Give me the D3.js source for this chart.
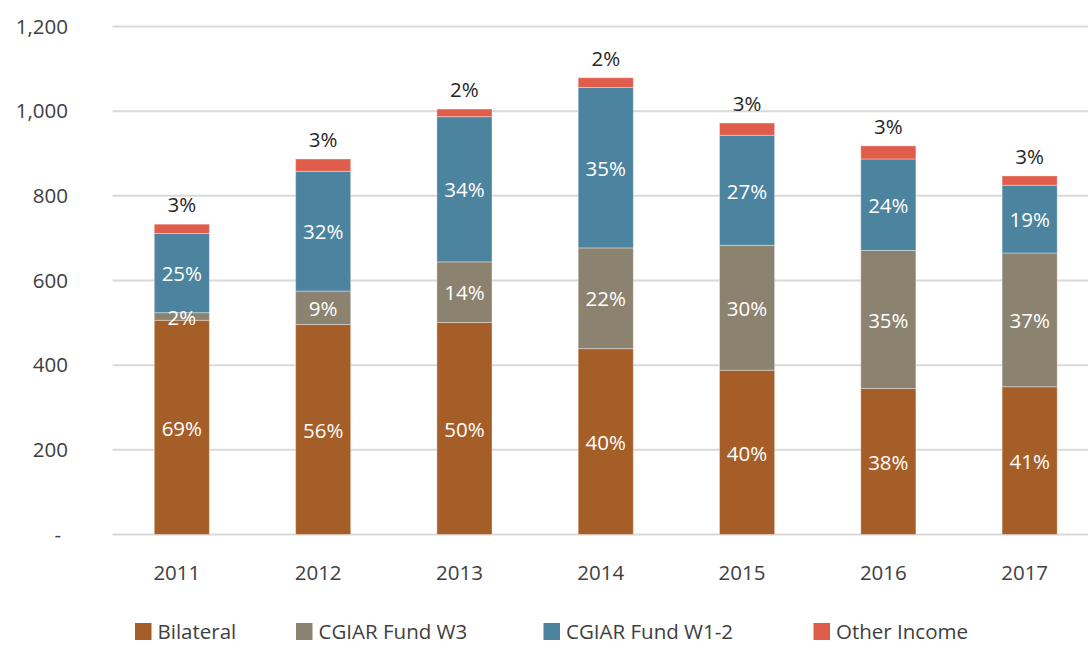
<!DOCTYPE html>
<html>
<head>
<meta charset="utf-8">
<script src="https://cdn.jsdelivr.net/npm/d3@7"></script>
<style>
  body { margin: 0; background: #fff; }
  svg { display: block; font-family: 'Open Sans', sans-serif; }
</style>
</head>
<body>
<div id="chart"></div>
<script>
// data (US$ millions)
const years = ['2011', '2012', '2013', '2014', '2015', '2016', '2017']
const series = ['Bilateral', 'CGIAR Fund W3', 'CGIAR Fund W1-2', 'Other Income']
const bilateral = [506, 496, 501, 439, 388, 345, 349]
const fundW3 = [18, 79, 143, 238, 295, 326, 316]
const fundW12 = [187, 283, 343, 379, 260, 216, 160]
const otherIncome = [22, 29, 18, 23, 29, 31, 22]

// percentage labels as printed
const bilateralPct = ['69%', '56%', '50%', '40%', '40%', '38%', '41%']
const w3Pct = ['2%', '9%', '14%', '22%', '30%', '35%', '37%']
const w12Pct = ['25%', '32%', '34%', '35%', '27%', '24%', '19%']
const otherPct = ['3%', '3%', '2%', '2%', '3%', '3%', '3%']

const yTicks = [0, 200, 400, 600, 800, 1000, 1200]

const colours = ['#a65e28', '#8c8270', '#4c84a0', '#e05d4b']

const width = 1088
const height = 646
const fontSize = '20.5px'

const svg = d3.select('#chart').append('svg')
    .attr('width', width)
    .attr('height', height)

const x = d3.scaleBand()
    .domain(years)
    .range([111.2, 1100.3])
    .paddingInner(0.61)
    .paddingOuter(0.305)

const y = d3.scaleLinear()
    .domain([0, 1200])
    .range([534.5, 26.5])

// gridlines + y labels
svg.append('g')
    .selectAll('line')
    .data(yTicks)
    .enter().append('line')
    .attr('x1', 112.5)
    .attr('x2', width)
    .attr('y1', d => y(d))
    .attr('y2', d => y(d))
    .attr('stroke', '#d9d9d9')
    .attr('stroke-width', 2)

svg.append('g')
    .selectAll('text')
    .data(yTicks)
    .enter().append('text')
    .attr('x', d => d === 0 ? 61 : 68)
    .attr('y', d => y(d))
    .attr('dy', '0.35em')
    .attr('text-anchor', 'end')
    .style('font-size', fontSize)
    .style('fill', '#404040')
    .text(d => d === 0 ? '-' : d3.format(',')(d))

// stack
const rows = years.map((yr, i) => ({
    year: yr,
    'Bilateral': bilateral[i],
    'CGIAR Fund W3': fundW3[i],
    'CGIAR Fund W1-2': fundW12[i],
    'Other Income': otherIncome[i]
}))
const stacked = d3.stack().keys(series)(rows)
const pctLabels = [bilateralPct, w3Pct, w12Pct, otherPct]

const layers = svg.append('g')
    .selectAll('g')
    .data(stacked)
    .enter().append('g')
    .attr('fill', (d, i) => colours[i])

layers.selectAll('rect')
    .data(d => d)
    .enter().append('rect')
    .attr('x', d => x(d.data.year))
    .attr('width', x.bandwidth())
    .attr('y', d => y(d[1]))
    .attr('height', d => y(d[0]) - y(d[1]))
    .attr('stroke', '#ffffff')
    .attr('stroke-opacity', 0.35)
    .attr('stroke-width', 1)

// labels inside segments (first three series)
stacked.slice(0, 3).forEach((layer, k) => {
    svg.append('g')
        .selectAll('text')
        .data(layer)
        .enter().append('text')
        .attr('x', d => x(d.data.year) + x.bandwidth() / 2)
        .attr('y', d => (y(d[0]) + y(d[1])) / 2)
        .attr('dy', '0.4em')
        .attr('text-anchor', 'middle')
        .style('font-size', fontSize)
        .style('fill', '#ffffff')
        .text((d, i) => pctLabels[k][i])
})

// other income labels above the bars
svg.append('g')
    .selectAll('text')
    .data(stacked[3])
    .enter().append('text')
    .attr('x', d => x(d.data.year) + x.bandwidth() / 2)
    .attr('y', d => y(d[1]) - 12)
    .attr('text-anchor', 'middle')
    .style('font-size', fontSize)
    .style('fill', '#262626')
    .text((d, i) => otherPct[i])

// x labels
svg.append('g')
    .selectAll('text')
    .data(years)
    .enter().append('text')
    .attr('x', d => x(d) + x.bandwidth() / 2 - 5)
    .attr('y', 580)
    .attr('text-anchor', 'middle')
    .style('font-size', fontSize)
    .style('fill', '#404040')
    .text(d => d)

// legend
const legendX = [135, 296, 543.5, 813.5]
const legend = svg.append('g')
    .selectAll('g')
    .data(series)
    .enter().append('g')
    .attr('transform', (d, i) => 'translate(' + legendX[i] + ',623)')

legend.append('rect')
    .attr('width', 16.5)
    .attr('height', 17)
    .attr('fill', (d, i) => colours[i])

legend.append('text')
    .attr('x', 22.5)
    .attr('y', 16)
    .style('font-size', fontSize)
    .style('fill', '#404040')
    .text(d => d)
</script>
</body>
</html>
